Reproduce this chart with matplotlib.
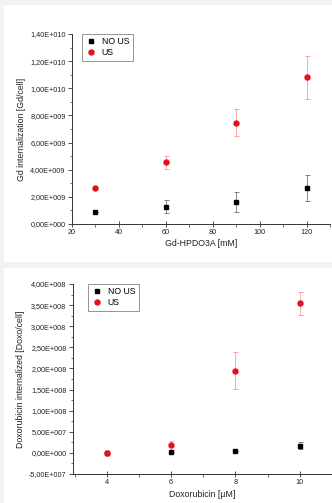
import math
import matplotlib
matplotlib.use("Agg")
import matplotlib.pyplot as plt
from matplotlib.ticker import FuncFormatter, MultipleLocator
from matplotlib.patches import Rectangle
from matplotlib.lines import Line2D

plt.rcParams['font.family'] = ['Liberation Sans', 'DejaVu Sans']

# ---- Data: top panel (Gd) ----
gd_conc = [30, 60, 90, 120]
gd_nous = [0.88e9, 1.28e9, 1.62e9, 2.63e9]
gd_nous_err = [0.0, 0.49e9, 0.77e9, 0.97e9]
gd_us = [2.65e9, 4.55e9, 7.47e9, 10.81e9]
gd_us_err = [0.0, 0.48e9, 0.98e9, 1.6e9]

# ---- Data: bottom panel (Doxorubicin) ----
dox_conc = [4, 6, 8, 10]
dox_nous = [0.0, 2.4e6, 5.5e6, 1.7e7]
dox_nous_err = [0.0, 0.0, 0.0, 0.8e7]
dox_us = [0.0, 1.8e7, 1.95e8, 3.54e8]
dox_us_err = [0.0, 1.1e7, 0.43e8, 0.28e8]

W, H = 332, 503
fig = plt.figure(figsize=(W / 100, H / 100), dpi=100)
fig.patch.set_facecolor('#f1f2f4')
fig.add_artist(Rectangle((4 / W, 1 - 262 / H), 1, (262 - 5) / H, transform=fig.transFigure,
                         facecolor='white', edgecolor='none', zorder=0))
fig.add_artist(Rectangle((4 / W, 0), 1, (H - 268) / H, transform=fig.transFigure,
                         facecolor='white', edgecolor='none', zorder=0))


def sci_fmt(v, pos):
    if abs(v) < 1e-6:
        return "0,00E+000"
    sign = '-' if v < 0 else ''
    a = abs(v)
    e = int(math.floor(math.log10(a) + 1e-9))
    m = a / 10 ** e
    return f"{sign}{m:.2f}".replace('.', ',') + f"E+{e:03d}"


red = '#e3121b'
tick_fs = 5.2
lab_fs = 6.3
leg_fs = 6.3


def style(ax):
    for s in ['top', 'right']:
        ax.spines[s].set_visible(False)
    for s in ['left', 'bottom']:
        ax.spines[s].set_linewidth(0.7)
        ax.spines[s].set_color('#333333')
    ax.set_facecolor('none')
    ax.tick_params(axis='both', which='major', labelsize=tick_fs, length=3, width=0.6,
                   colors='#333333', labelcolor='#222222', pad=1.5)
    ax.tick_params(axis='x', which='major', direction='inout', length=4)
    ax.tick_params(axis='both', which='minor', length=1.8, width=0.5, colors='#333333')
    ax.yaxis.set_major_formatter(FuncFormatter(sci_fmt))


def add_legend(ax, x0):
    handles = [Line2D([], [], marker='s', ls='none', color='black', ms=3.3),
               Line2D([], [], marker='o', ls='none', color=red, ms=3.6)]
    leg = ax.legend(handles, ['NO US', 'US'], loc='upper left', bbox_to_anchor=(x0, 1.0),
                    fontsize=leg_fs, frameon=True, fancybox=False, edgecolor='#444444',
                    handletextpad=0.6, borderpad=0.4, labelspacing=0.2, handlelength=1.2,
                    borderaxespad=0)
    leg.get_frame().set_linewidth(0.5)


# ---- Top axes ----
ax1 = fig.add_axes([72 / W, 1 - 224 / H, (330 - 72) / W, (224 - 34) / H])
style(ax1)
ax1.errorbar(gd_conc, gd_nous, yerr=gd_nous_err, fmt='s', color='black', ms=3.3,
             ecolor='#555555', elinewidth=0.5, capsize=1.8, capthick=0.5)
ax1.errorbar(gd_conc, gd_us, yerr=gd_us_err, fmt='o', color=red, ms=3.6,
             ecolor='#ee8888', elinewidth=0.5, capsize=1.8, capthick=0.5)
ax1.set_xlim(20, 130)
ax1.set_ylim(0, 1.4e10)
ax1.xaxis.set_major_locator(MultipleLocator(20))
ax1.xaxis.set_minor_locator(MultipleLocator(10))
ax1.yaxis.set_major_locator(MultipleLocator(2e9))
ax1.yaxis.set_minor_locator(MultipleLocator(1e9))
ax1.set_xlabel('Gd-HPDO3A [mM]', fontsize=lab_fs, color='#222222', labelpad=2)
ax1.set_ylabel('Gd internalization [Gd/cell]', fontsize=lab_fs, color='#222222', labelpad=3)
add_legend(ax1, 0.04)

# ---- Bottom axes ----
ax2 = fig.add_axes([72.7 / W, 1 - 474 / H, (332 - 72.7) / W, (474 - 284) / H])
style(ax2)
ax2.errorbar(dox_conc, dox_nous, yerr=dox_nous_err, fmt='s', color='black', ms=3.3,
             ecolor='#555555', elinewidth=0.5, capsize=1.8, capthick=0.5)
ax2.errorbar(dox_conc, dox_us, yerr=dox_us_err, fmt='o', color=red, ms=3.6,
             ecolor='#ee8888', elinewidth=0.5, capsize=1.8, capthick=0.5)
ax2.set_xlim(2.94, 11.0)
ax2.set_ylim(-5e7, 4e8)
ax2.set_xticks([4, 6, 8, 10])
ax2.xaxis.set_minor_locator(MultipleLocator(1))
ax2.yaxis.set_major_locator(MultipleLocator(5e7))
ax2.yaxis.set_minor_locator(MultipleLocator(2.5e7))
ax2.set_xlabel('Doxorubicin [µM]', fontsize=lab_fs, color='#222222', labelpad=3)
ax2.set_ylabel('Doxorubicin internalized [Doxo/cell]', fontsize=lab_fs, color='#222222', labelpad=3)
add_legend(ax2, 0.06)

fig.savefig('out.png', dpi=100, facecolor=fig.get_facecolor())
